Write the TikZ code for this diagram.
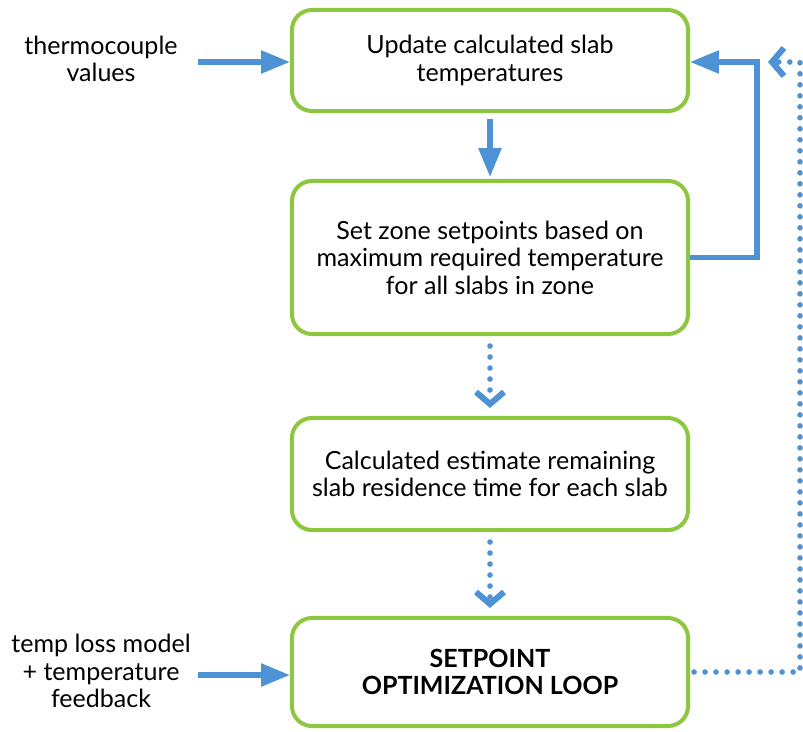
\documentclass[tikz,border=0pt]{standalone}
\usepackage{fontspec}
\setmainfont{Lato}
\definecolor{flowblue}{RGB}{77,146,212}
\definecolor{flowgreen}{RGB}{141,198,63}
\usetikzlibrary{arrows.meta,positioning}

\begin{document}
\begin{tikzpicture}[x=0.025cm, y=-0.025cm,
    stepbox/.style={draw=flowgreen, fill=white, line width=0.1cm, rounded corners=0.5cm,
      minimum width=9.9cm, align=center, font=\fontsize{17.8}{19.6}\selectfont},
    sidetext/.style={align=center, font=\fontsize{17.8}{19.6}\selectfont},
    solidarrow/.style={-{Triangle[length=0.72cm,width=0.55cm]}, line width=0.13cm, flowblue},
    dotarrow/.style={-{Straight Barb[length=0.3cm,width=0.7cm,line width=0.15cm]}, line width=0.14cm,
      flowblue, line cap=round, dash pattern=on 0pt off 0.275cm}]
  \useasboundingbox (0,0) rectangle (803,731);

  %--- Process boxes ---
  \node[stepbox, minimum height=2.525cm] (update) at (490,60.5) {Update calculated slab\\temperatures};
  \node[stepbox, minimum height=3.825cm] (setzone) at (490,257.5) {Set zone setpoints based on\\maximum required temperature\\for all slabs in zone};
  \node[stepbox, minimum height=2.8cm] (estimate) at (490,474) {Calculated estimate remaining\\slab residence time for each slab};
  \node[stepbox, minimum height=2.7cm, font=\fontsize{17.8}{19.6}\selectfont\bfseries] (optloop) at (490,672) {SETPOINT\\OPTIMIZATION LOOP};

  %--- Inputs ---
  \node[sidetext] (thermo) at (101,59) {thermocouple\\values};
  \node[sidetext] (tempmodel) at (101,671) {temp loss model\\+ temperature\\feedback};
  \coordinate (thermoin) at (198,62);
  \coordinate (modelin) at (198,675);

  % loop corners
  \coordinate (solidcorner) at (757,62);
  \coordinate (dotcorner) at (800,62);
  \coordinate (dotend) at (768,62);

  %--- Arrows ---
  \draw[solidarrow] (thermoin) -- (update.west |- thermoin);
  \draw[solidarrow] (modelin) -- (optloop.west |- modelin);
  \draw[solidarrow, shorten <=0.15cm, shorten >=0.05cm] (update.south) -- (setzone.north);
  \draw[solidarrow, line join=miter] (setzone.east) -| (solidcorner) -- (update.east |- solidcorner);
  \draw[dotarrow, shorten <=0.25cm, shorten >=0.2cm] (setzone.south) -- (estimate.north);
  \draw[dotarrow, shorten <=0.25cm, shorten >=0.2cm] (estimate.south) -- (optloop.north);
  \draw[dotarrow, shorten <=0.1cm] (optloop.east) -| (dotcorner) -- (dotend);
\end{tikzpicture}
\end{document}
